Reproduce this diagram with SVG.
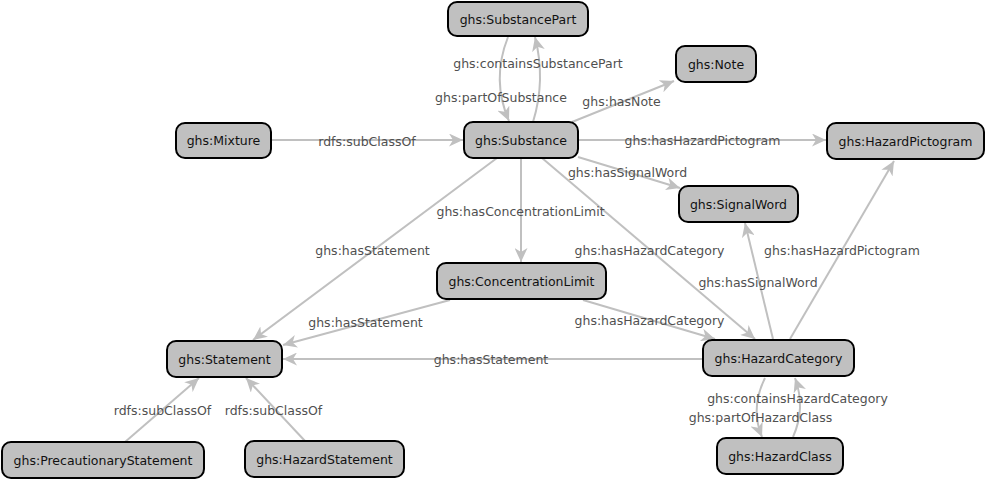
<svg xmlns="http://www.w3.org/2000/svg" width="987" height="480" viewBox="0 0 987 480">
<style>
.n rect{fill:#c0c0c0;stroke:#000;stroke-width:2}
.n text{font-family:"DejaVu Sans",sans-serif;font-size:12.5px;fill:#111;text-anchor:middle}
.e path{fill:none;stroke:#c0c0c0;stroke-width:2;marker-end:url(#a)}
.l{font-family:"DejaVu Sans",sans-serif;font-size:12.5px;fill:#505050;text-anchor:middle}
</style>
<defs>
<marker id="a" markerUnits="userSpaceOnUse" markerWidth="15" markerHeight="13" refX="14" refY="6.5" orient="auto">
<path d="M0,0 L14,6.5 L0,13 L4,6.5 z" fill="#c0c0c0"/>
</marker>
</defs>
<rect width="987" height="480" fill="#fff"/>
<g id="connectors" class="e">
<path d="M271,140 L463,140"/>
<path d="M533,122 Q546,80 535,37"/>
<path d="M508,37 Q491,80 509,121"/>
<path d="M572,122 L674,81"/>
<path d="M578,140 L826,140"/>
<path d="M578,157 L680,188"/>
<path d="M497,158 L253,340"/>
<path d="M521,158 L521,262"/>
<path d="M542,158 L755,339"/>
<path d="M450,300 L283,345"/>
<path d="M583,300 L715,339"/>
<path d="M703,359 L283,359"/>
<path d="M773,339 L745,223"/>
<path d="M790,339 L894,161"/>
<path d="M765,378 Q750,408 762,437"/>
<path d="M793,437 Q806,408 795,378"/>
<path d="M125,442 L199,378"/>
<path d="M305,441 L246,378"/>
</g>
<g id="labels">
<text class="l" x="367" y="145.5">rdfs:subClassOf</text>
<text class="l" x="538" y="67.5">ghs:containsSubstancePart</text>
<text class="l" x="501" y="101.5">ghs:partOfSubstance</text>
<text class="l" x="621.5" y="105.5">ghs:hasNote</text>
<text class="l" x="702.5" y="144.5">ghs:hasHazardPictogram</text>
<text class="l" x="627.5" y="176.5">ghs:hasSignalWord</text>
<text class="l" x="520.5" y="215.5">ghs:hasConcentrationLimit</text>
<text class="l" x="372.5" y="254.5">ghs:hasStatement</text>
<text class="l" x="365.5" y="326.5">ghs:hasStatement</text>
<text class="l" x="491" y="363.5">ghs:hasStatement</text>
<text class="l" x="649.5" y="254.5">ghs:hasHazardCategory</text>
<text class="l" x="649.5" y="324.5">ghs:hasHazardCategory</text>
<text class="l" x="758" y="286.5">ghs:hasSignalWord</text>
<text class="l" x="842" y="254.5">ghs:hasHazardPictogram</text>
<text class="l" x="797.5" y="402.5">ghs:containsHazardCategory</text>
<text class="l" x="760.5" y="421.5">ghs:partOfHazardClass</text>
<text class="l" x="162.5" y="414.5">rdfs:subClassOf</text>
<text class="l" x="273.5" y="414.5">rdfs:subClassOf</text>
</g>
<g id="SubstancePart" class="n"><rect x="448" y="2" width="140" height="34" rx="9"/><text x="518" y="23.5">ghs:SubstancePart</text></g>
<g id="Substance" class="n"><rect x="464" y="122" width="114" height="36" rx="9"/><text x="521" y="144.5">ghs:Substance</text></g>
<g id="Mixture" class="n"><rect x="176" y="123" width="95" height="35" rx="9"/><text x="223.5" y="144.5">ghs:Mixture</text></g>
<g id="Note" class="n"><rect x="676" y="46" width="80" height="36" rx="9"/><text x="716" y="68.5">ghs:Note</text></g>
<g id="HazardPictogram" class="n"><rect x="827" y="123" width="157" height="36" rx="9"/><text x="905.5" y="145.5">ghs:HazardPictogram</text></g>
<g id="SignalWord" class="n"><rect x="679" y="186" width="119" height="36" rx="9"/><text x="738.5" y="208.5">ghs:SignalWord</text></g>
<g id="ConcentrationLimit" class="n"><rect x="437" y="263" width="169" height="36" rx="9"/><text x="521.5" y="285.5">ghs:ConcentrationLimit</text></g>
<g id="Statement" class="n"><rect x="167" y="341" width="115" height="36" rx="9"/><text x="224.5" y="363.5">ghs:Statement</text></g>
<g id="HazardCategory" class="n"><rect x="703" y="340" width="151" height="36" rx="9"/><text x="778.5" y="362.5">ghs:HazardCategory</text></g>
<g id="HazardClass" class="n"><rect x="717" y="438" width="126" height="36" rx="9"/><text x="780" y="460.5">ghs:HazardClass</text></g>
<g id="PrecautionaryStatement" class="n"><rect x="2" y="442" width="202" height="36" rx="9"/><text x="103" y="464.5">ghs:PrecautionaryStatement</text></g>
<g id="HazardStatement" class="n"><rect x="245" y="441" width="159" height="36" rx="9"/><text x="324.5" y="463.5">ghs:HazardStatement</text></g>
</svg>
